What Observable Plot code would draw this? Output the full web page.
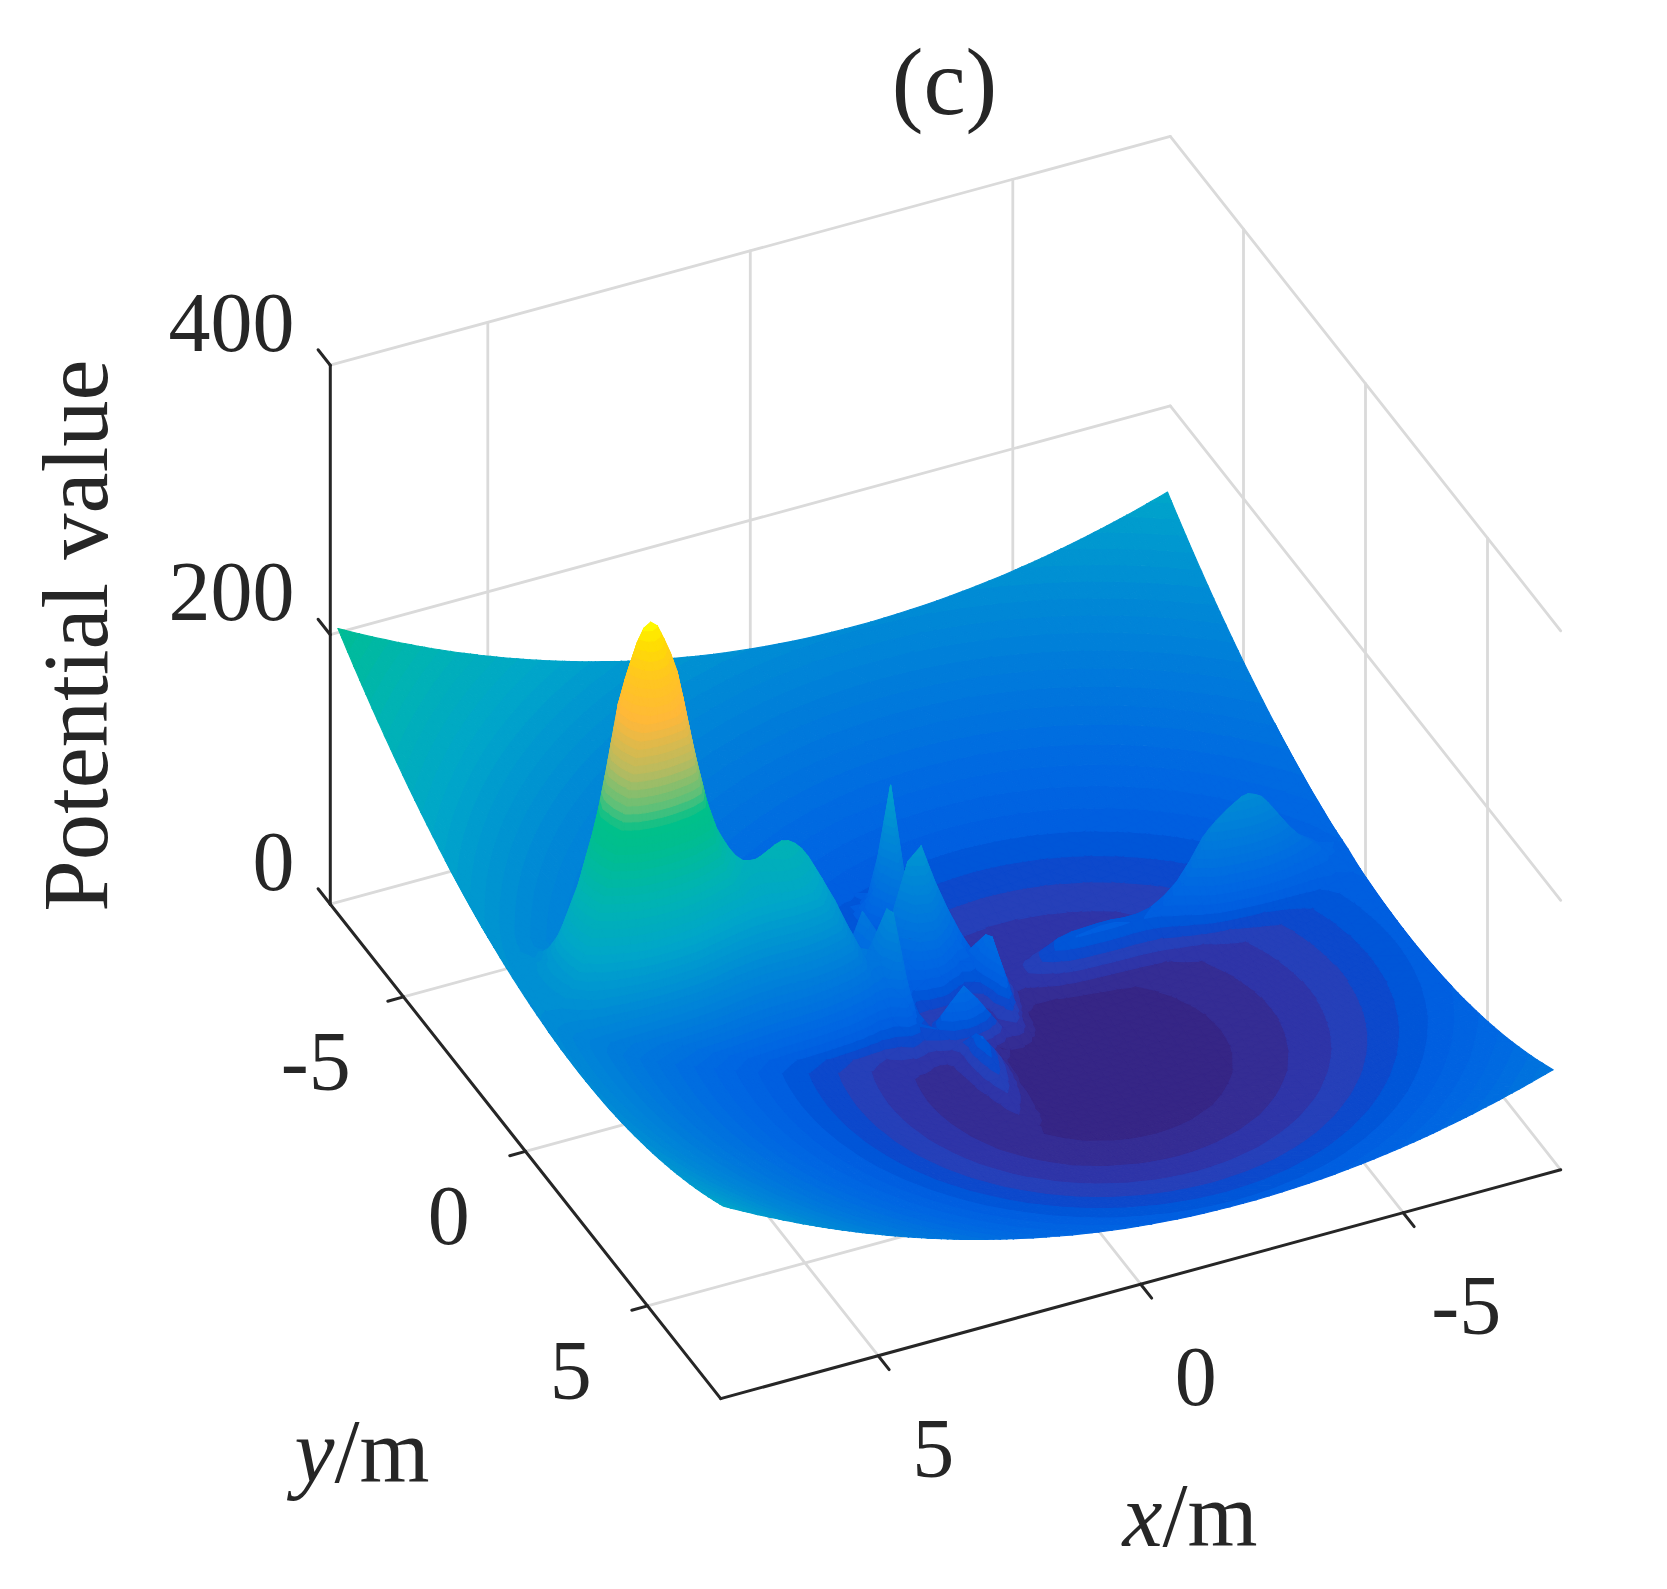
<!DOCTYPE html>
<html><head><meta charset="utf-8">
<script src="https://cdn.jsdelivr.net/npm/d3@7"></script>
<script src="https://cdn.jsdelivr.net/npm/@observablehq/plot@0.6"></script>
<style>html,body{margin:0;padding:0;background:#fff}svg{display:block}</style>
</head><body><div id="chart"></div>
<script>
// --- values ---
const xTicks = [-5, 0, 5];
const yTicks = [-5, 0, 5];
const zTicks = [0, 200, 400];
const gridX = [-7.9,-7.75,-7.5,-7.25,-7.125,-7,-6.875,-6.75,-6.625,-6.5,-6.375,-6.25,-6.125,-6,-5.875,-5.75,-5.625,-5.5,-5.375,-5.25,-5.125,-5,-4.75,-4.5,-4.25,-4,-3.75,-3.5,-3.25,-3,-2.75,-2.5,-2.25,-2,-1.75,-1.5,-1.25,-1,-0.75,-0.5,-0.25,0,0.25,0.5,0.75,1,1.25,1.5,1.75,2,2.25,2.375,2.5,2.625,2.75,2.875,3,3.125,3.25,3.375,3.5,3.625,3.75,3.875,4,4.125,4.25,4.375,4.5,4.625,4.75,4.875,5,5.125,5.25,5.375,5.5,5.625,5.75,5.875,6,6.125,6.25,6.375,6.5,6.75,7,7.25,7.5,7.75,7.9];
const gridY = [-7.9,-7.75,-7.5,-7.25,-7,-6.75,-6.5,-6.25,-6,-5.75,-5.5,-5.25,-5,-4.75,-4.5,-4.25,-4,-3.75,-3.5,-3.25,-3,-2.75,-2.5,-2.25,-2,-1.75,-1.5,-1.25,-1,-0.75,-0.5,-0.25,0,0.25,0.5,0.75,1,1.25,1.5,1.75,2,2.25,2.5,2.75,3,3.25,3.5,3.75,4,4.25,4.5,4.75,5,5.25,5.5,5.75,6,6.25,6.5,6.75,7,7.25,7.5,7.75,7.9];
// bowl height contributed along x and along y
const bowlAlongX = [36.5,34.7,31.8,28.9,27.6,26.3,25,23.7,22.5,21.3,20.1,19,17.9,16.8,15.8,14.8,13.8,12.9,12,11.1,10.3,9.5,7.9,6.6,5.3,4.2,3.2,2.4,1.6,1.1,0.6,0.3,0.1,0,0.1,0.3,0.6,1.1,1.6,2.4,3.2,4.2,5.3,6.6,7.9,9.5,11.1,12.9,14.8,16.8,19,20.1,21.3,22.5,23.7,25,26.3,27.6,28.9,30.3,31.8,33.2,34.7,36.2,37.8,39.4,41,42.7,44.4,46.1,47.8,49.6,51.5,53.3,55.2,57.1,59.1,61,63.1,65.1,67.2,69.3,71.5,73.6,75.9,80.4,85.1,89.8,94.8,99.8,102.9];
const bowlAlongY = [102.9,99.8,94.8,89.8,85.1,80.4,75.9,71.5,67.2,63.1,59.1,55.2,51.5,47.8,44.4,41,37.8,34.7,31.8,28.9,26.3,23.7,21.3,19,16.8,14.8,12.9,11.1,9.5,7.9,6.6,5.3,4.2,3.2,2.4,1.6,1.1,0.6,0.3,0.1,0,0.1,0.3,0.6,1.1,1.6,2.4,3.2,4.2,5.3,6.6,7.9,9.5,11.1,12.9,14.8,16.8,19,21.3,23.7,26.3,28.9,31.8,34.7,36.5];
// ridge with the tall peak and the shoulder (x > 0)
const eastRidgeX = [0.25,0.5,0.75,1,1.25,1.5,1.75,2,2.25,2.375,2.5,2.625,2.75,2.875,3,3.125,3.25,3.375,3.5,3.625,3.75,3.875,4,4.125,4.25,4.375,4.5,4.625,4.75,4.875,5,5.125,5.25,5.375,5.5,5.625,5.75,5.875,6,6.125,6.25,6.375,6.5,6.75,7,7.25,7.5,7.75,7.9];
const eastRidge = [0,4,10,20,35,54,75,95,112,120,128,134,138,140,140,137,133,129,126,125,125,128,133,140,148,161,175,195,215,238,262,275,285,294,296,291,280,265,245,215,185,158,135,95,60,28,12,5,3];
const eastCrossY = [-1.75,-1.5,-1.25,-1,-0.75,-0.5,-0.25,0,0.25,0.5,0.75];
const eastCross = [0.02,0.08,0.22,0.42,0.68,0.92,1,0.95,0.85,0.4,0.03];
// low ridge with the rounded hill (x < 0)
const westRidgeX = [-7.9,-7.75,-7.5,-7.25,-7.125,-7,-6.875,-6.75,-6.625,-6.5,-6.375,-6.25,-6.125,-6,-5.875,-5.75,-5.625,-5.5,-5.375,-5.25,-5.125,-5,-4.75,-4.5,-4.25,-4,-3.75,-3.5,-3.25,-3,-2.75,-2.5,-2.25,-2,-1.75,-1.5,-1.25,-1];
const westRidge = [1,3,8,20,25,30,37,44,52,60,68,75,79,82,82,80,78,75,71,66,58,50,37,29,24,23,24,26,27,27,27,25,20,14,9,6,3,1];
const westCrossY = [-1.25,-1,-0.75,-0.5,-0.25,0];
const westCross = [0.03,0.25,0.85,1,0.5,0.08];
// the cluster of narrow spikes around the origin
const spikeX = [-1.5,-1.25,-1,-0.75,-0.5,-0.25,0,0.25,0.5,0.75,1,1.25,1.5];
const spikeY = [-3,-2.75,-2.5,-2.25,-2,-1.75,-1.5,-1.25,-1,-0.75,-0.5,-0.25,0,0.25,0.5,0.75,1,1.25,1.5,1.75,2,2.25,2.5,2.75,3,3.25];
const spikeHeights = [
 [0,0,0,0,0,1,5,1,0,0,0,0,0],
 [0,0,0,0,2,8,25,8,2,0,0,0,0],
 [0,0,0,0,6,25,70,25,6,0,0,0,0],
 [0,0,0,0,9,40,112,40,9,0,0,0,0],
 [0,0,0,0,6,25,70,25,6,0,0,0,0],
 [0,0,2,3,6,14,40,15,5,2,6,2,0],
 [0,2,5,10,16,23,38,28,14,8,25,8,1],
 [0,5,14,26,41,58,79,72,40,28,50,16,3],
 [0,6,18,35,55,78,105,95,58,36,40,12,2],
 [0,5,14,28,44,62,84,76,45,30,30,10,2],
 [1,13,45,28,30,43,58,52,32,22,45,14,2],
 [2,17,51,23,16,23,31,28,17,24,65,20,3],
 [2,14,45,13,7,9,12,11,7,24,70,21,4],
 [1,10,35,11,5,8,10,8,4,17,50,15,3],
 [1,7,22,12,15,23,29,23,12,15,30,10,2],
 [1,5,14,12,25,38,49,38,20,12,15,7,1],
 [0,1,4,3,8,12,15,12,6,4,5,2,0],
 [0,0,1,1,4,14,26,9,2,1,1,0,0],
 [0,0,0,0,4,18,30,10,1,0,0,0,0],
 [0,0,0,0,4,16,26,9,0,0,0,0,0],
 [0,0,0,0,3,13,22,8,0,0,0,0,0],
 [0,0,0,0,3,10,17,6,0,0,0,0,0],
 [0,0,0,0,2,8,13,4,0,0,0,0,0],
 [0,0,0,0,1,5,9,3,0,0,0,0,0],
 [0,0,0,0,1,3,6,2,0,0,0,0,0],
 [0,0,0,0,0,1,3,1,0,0,0,0,0]
];
// colour map of the surface
const colorLevels = [2.8,8.5,14,20,25.5,31,37,50,75,100,140,175,210,225,240,265,300,330,350,362];
const colorValues = ["#362686","#352d94","#2f35a8","#2640ba","#0d49cc","#0056d8","#005fe0","#0068e2","#0078dc","#0088d6","#00a6ca","#00b4b2","#00be90","#00c08a","#60c078","#b8bb60","#ffb83a","#ffc81e","#ffe000","#ffff00"];
const bandStep = 5.65;

// --- view of the 3-D box ---
const sx = (x, y) => 945 - 52.5 * x + 24.4 * y;
const sy = (x, y, z) => 1036.5 + 14.3 * x + 30.9 * y - 1.3475 * z;

// --- surface heights ---
const lookup = (keys, vals, k) => { const i = keys.indexOf(k); return i < 0 ? 0 : vals[i]; };
const bowlHeight = (i, j) => bowlAlongX[i] + bowlAlongY[j];
const height = (i, j) => {
  const x = gridX[i], y = gridY[j];
  let h = bowlHeight(i, j);
  h += lookup(eastRidgeX, eastRidge, x) * lookup(eastCrossY, eastCross, y);
  h += lookup(westRidgeX, westRidge, x) * lookup(westCrossY, westCross, y);
  const a = spikeX.indexOf(x), b = spikeY.indexOf(y);
  if (a >= 0 && b >= 0) h += spikeHeights[b][a];
  return h;
};

// --- flat-band shading: every triangle is cut at the colour-map steps ---
function cut(poly, level, above) {
  const out = [];
  for (let n = 0; n < poly.length; n++) {
    const p = poly[n], q = poly[(n + 1) % poly.length];
    const pin = above ? p[2] >= level : p[2] <= level;
    const qin = above ? q[2] >= level : q[2] <= level;
    if (pin) out.push(p);
    if (pin !== qin) {
      const t = (level - p[2]) / (q[2] - p[2]);
      out.push([p[0] + t * (q[0] - p[0]), p[1] + t * (q[1] - p[1]), level]);
    }
  }
  return out;
}
const facets = [];
let facetId = 0;
function addTriangle(tri) {
  const zs = tri.map(d => d[2]);
  const k0 = Math.floor(Math.min(...zs) / bandStep), k1 = Math.floor(Math.max(...zs) / bandStep);
  for (let k = k0; k <= k1; k++) {
    let poly = k === k0 && k === k1 ? tri : cut(cut(tri, k * bandStep, true), (k + 1) * bandStep, false);
    if (poly.length < 3) continue;
    const id = facetId++, v = (k + 0.5) * bandStep;
    for (const p of poly) facets.push({id, sx: p[0], sy: p[1], v});
    facets.push({id, sx: poly[0][0], sy: poly[0][1], v});
  }
}
const vertexOf = (hf) => (i, j) => { const x = gridX[i], y = gridY[j], z = hf(i, j); return [sx(x, y), sy(x, y, z), z]; };
function addSurface(hf, keep) {
  const vertex = vertexOf(hf);
  for (let i = 0; i < gridX.length - 1; i++) for (let j = 0; j < gridY.length - 1; j++) {
    if (!keep(gridY[j])) continue;
    const a = vertex(i, j), b = vertex(i + 1, j), c = vertex(i, j + 1), d = vertex(i + 1, j + 1);
    addTriangle([a, b, c]);
    addTriangle([b, d, c]);
  }
}
addSurface(bowlHeight, y => Math.abs(y) <= 3.5); // plain bowl behind the folds of the ridges
addSurface(height, () => true);

// --- box ---
const segments = (list) => list.flatMap(([p, q], id) => [
  {id, sx: sx(p[0], p[1]), sy: sy(p[0], p[1], p[2])},
  {id, sx: sx(q[0], q[1]), sy: sy(q[0], q[1], q[2])}
]);
const M = 8;
const gridLines = segments([
  ...zTicks.flatMap(z => [[[M, -M, z], [-M, -M, z]], [[-M, -M, z], [-M, M, z]]]),
  ...xTicks.flatMap(x => [[[x, M, 0], [x, -M, 0]], [[x, -M, 0], [x, -M, 400]]]),
  ...yTicks.flatMap(y => [[[M, y, 0], [-M, y, 0]], [[-M, y, 0], [-M, y, 400]]])
]);
const axisLines = segments([
  [[M, -M, 0], [M, M, 0]],
  [[M, M, 0], [-M, M, 0]],
  [[M, -M, 0], [M, -M, 400]],
  ...zTicks.map(z => [[M, -M, z], [M, -M - 0.5, z]]),
  ...xTicks.map(x => [[x, M, 0], [x, M + 0.45, 0]]),
  ...yTicks.map(y => [[M, y, 0], [M + 0.3, y, 0]])
]);

const serif = "Liberation Serif, Times New Roman, serif";
const ink = "#262626";
const tick = (vals, fx, fy, extra) => Plot.text(vals, {
  x: fx, y: fy, text: d => String(d), fontFamily: serif, fontSize: 84, fill: ink,
  lineAnchor: "middle", ...extra});
const label = (s, x, y, extra) => Plot.text([s], {
  x: [x], y: [y], text: d => d, fontFamily: serif, fontSize: 90, fill: ink,
  lineAnchor: "middle", ...extra});

const chart = Plot.plot({
  width: 1667, height: 1589,
  marginTop: 0, marginRight: 0, marginBottom: 0, marginLeft: 0,
  x: {domain: [0, 1667], range: [0, 1667], axis: null},
  y: {domain: [0, 1589], range: [0, 1589], axis: null},
  color: {type: "linear", domain: colorLevels, range: colorValues, clamp: true},
  style: {background: "#fff"},
  marks: [
    Plot.line(gridLines, {x: "sx", y: "sy", z: "id", stroke: "#dadada", strokeWidth: 2.8}),
    Plot.line(axisLines, {x: "sx", y: "sy", z: "id", stroke: ink, strokeWidth: 3}),
    Plot.line(facets, {x: "sx", y: "sy", z: "id", fill: "v", stroke: "v", strokeWidth: 1.1}),
    tick(zTicks, () => sx(M, -M - 1.55) + 2, d => sy(M, -M - 1.55, d - 5), {textAnchor: "end"}),
    tick(xTicks, d => sx(d, M + 2.3) + (d < 0 ? 7 : -1), d => sy(d, M + 2.3, -17)),
    tick(yTicks, d => sx(M + 1.5, d) + (d < 0 ? -9 : 2), d => sy(M + 1.5, d, -33)),
    label("(c)", 944, 83, {fontSize: 95}),
    label("Potential value", 77, 635, {rotate: -90, fontSize: 92.5}),
    label("y", 334, 1453, {fontStyle: "italic", textAnchor: "end"}),
    label("/m", 334, 1453, {textAnchor: "start"}),
    label("x", 1162, 1517, {fontStyle: "italic", textAnchor: "end"}),
    label("/m", 1162, 1517, {textAnchor: "start"})
  ]
});
document.getElementById("chart").appendChild(chart);
</script>
</body></html>
